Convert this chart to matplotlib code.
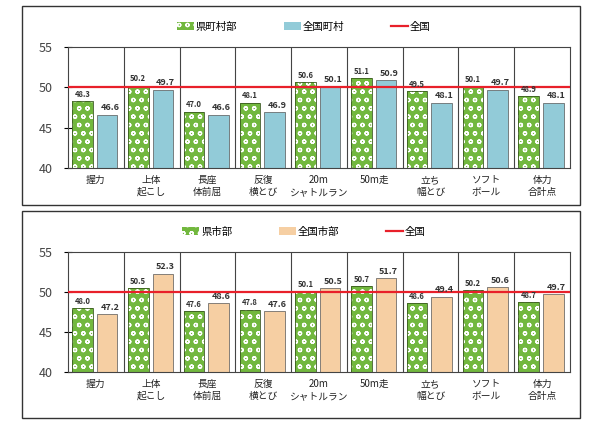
import matplotlib
matplotlib.use("Agg")
import matplotlib.pyplot as plt
from matplotlib.patches import Rectangle, Patch
from matplotlib.lines import Line2D
import numpy as np

plt.rcParams['font.family'] = ['Noto Sans CJK JP', 'DejaVu Sans']
plt.rcParams['hatch.color'] = 'white'
plt.rcParams['hatch.linewidth'] = 0.9

categories = ["握力", "上体\n起こし", "長座\n体前屈", "反復\n横とび", "20m\nシャトルラン",
              "50m走", "立ち\n幅とび", "ソフト\nボール", "体力\n合計点"]

top_labels = ["県町村部", "全国町村", "全国"]
top_pref = [48.3, 50.2, 47.0, 48.1, 50.6, 51.1, 49.5, 50.1, 48.9]
top_nat = [46.6, 49.7, 46.6, 46.9, 50.1, 50.9, 48.1, 49.7, 48.1]

bot_labels = ["県市部", "全国市部", "全国"]
bot_pref = [48.0, 50.5, 47.6, 47.8, 50.1, 50.7, 48.6, 50.2, 48.7]
bot_nat = [47.2, 52.3, 48.6, 47.6, 50.5, 51.7, 49.4, 50.6, 49.7]

national = 50.0
yticks = [40, 45, 50, 55]

GREEN = '#72b83e'
BLUE = '#92cbd8'
PEACH = '#f6cfa3'
RED = '#e8202a'

fig = plt.figure(figsize=(6.09, 4.23), dpi=100)
fig.patch.set_facecolor('white')

W, H = 609, 423
def fx(px):
    return px / W
def fy(py):
    return 1 - py / H

# panel frames
for (y0, y1) in [(6, 205), (211, 418)]:
    fig.patches.append(Rectangle((fx(22), fy(y1)), fx(580) - fx(22), fy(y0) - fy(y1),
                                 transform=fig.transFigure, fill=False,
                                 edgecolor='#333333', linewidth=1.0))

def draw(ax, pref, other, other_color, labels):
    x = np.arange(len(categories))
    w = 0.37
    xl = x - 0.24
    xr = x + 0.2
    ax.bar(xl, [p - 40 for p in pref], w, bottom=40, color=GREEN,
           hatch='oo', edgecolor='white', linewidth=0, zorder=2)
    ax.bar(xl, [p - 40 for p in pref], w, bottom=40, fill=False,
           edgecolor='#3a5a20', linewidth=0.6, zorder=3)
    ax.bar(xr, [o - 40 for o in other], w, bottom=40, color=other_color,
           edgecolor='#555555', linewidth=0.5, zorder=2)
    for i in range(len(categories)):
        ax.text(xl[i], pref[i] + 0.3, f"{pref[i]:.1f}", ha='center', va='bottom',
                fontsize=5.5, color='#333333', fontweight='bold', zorder=5)
        ax.text(xr[i] + 0.05, other[i] + 0.3, f"{other[i]:.1f}", ha='center', va='bottom',
                fontsize=6.5, color='#333333', fontweight='bold', zorder=5)
    ax.axhline(national, color=RED, linewidth=1.6, zorder=4)
    for b in np.arange(0.5, len(categories) - 0.5, 1.0):
        ax.axvline(b, color='#444444', linewidth=0.8, zorder=1)
    ax.set_xlim(-0.5, len(categories) - 0.5)
    ax.set_ylim(40, 55)
    ax.set_yticks(yticks)
    ax.set_yticklabels([str(t) for t in yticks], fontsize=9, color='#444444')
    ax.tick_params(axis='y', direction='inout', length=6, width=0.8, pad=8)
    ax.set_xticks(x)
    ax.set_xticklabels(categories, fontsize=7, color='#222222', linespacing=1.25)
    ax.tick_params(axis='x', length=0, pad=5)
    for s in ax.spines.values():
        s.set_color('#444444')
        s.set_linewidth(0.8)
    handles = [Patch(facecolor=GREEN, hatch='oo', edgecolor='white', linewidth=0),
               Patch(facecolor=other_color, edgecolor='none'),
               Line2D([0], [0], color=RED, linewidth=1.6)]
    ax.legend(handles, labels, loc='lower center', bbox_to_anchor=(0.47, 1.05),
              ncol=3, frameon=False, fontsize=7.5, handlelength=1.6, handleheight=0.8,
              columnspacing=4.5, handletextpad=0.2)

ax1 = fig.add_axes([fx(68), fy(168), fx(570) - fx(68), fy(47) - fy(168)])
draw(ax1, top_pref, top_nat, BLUE, top_labels)
ax2 = fig.add_axes([fx(68), fy(372), fx(570) - fx(68), fy(252) - fy(372)])
draw(ax2, bot_pref, bot_nat, PEACH, bot_labels)

fig.savefig("out.png", dpi=100)
